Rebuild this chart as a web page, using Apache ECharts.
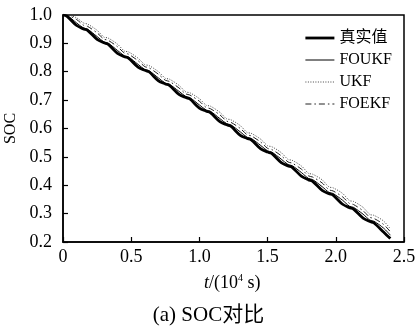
<!DOCTYPE html>
<html>
<head>
<meta charset="utf-8">
<script src="https://cdn.jsdelivr.net/npm/echarts@6/dist/echarts.min.js"></script>
<style>
  html, body { margin: 0; padding: 0; background: #fff; }
  #chart { width: 417px; height: 336px; }
</style>
</head>
<body>
<div id="chart"></div>
<script>
// 时间 (10^4 s)
var times = [0, 0.03, 0.10, 0.15, 0.18, 0.25, 0.30, 0.33, 0.40, 0.45, 0.48, 0.55, 0.60, 0.63, 0.70,
  0.75, 0.78, 0.85, 0.90, 0.93, 1.00, 1.05, 1.08, 1.15, 1.20, 1.23, 1.30, 1.35, 1.38, 1.45,
  1.50, 1.53, 1.60, 1.65, 1.68, 1.75, 1.80, 1.83, 1.90, 1.95, 1.98, 2.05, 2.10, 2.13, 2.20,
  2.25, 2.28, 2.35, 2.40];

var trueSoc = [1.000, 0.995, 0.963, 0.951, 0.946, 0.914, 0.902, 0.897, 0.865, 0.853, 0.848, 0.816,
  0.805, 0.800, 0.768, 0.757, 0.752, 0.720, 0.709, 0.704, 0.672, 0.661, 0.656, 0.624,
  0.613, 0.608, 0.576, 0.565, 0.560, 0.528, 0.517, 0.512, 0.480, 0.468, 0.463, 0.431,
  0.419, 0.414, 0.382, 0.370, 0.365, 0.333, 0.321, 0.316, 0.284, 0.272, 0.267, 0.235, 0.212];

var foukf = [1.000, 0.998, 0.972, 0.954, 0.950, 0.924, 0.905, 0.901, 0.875, 0.856, 0.852, 0.826,
  0.808, 0.804, 0.778, 0.760, 0.756, 0.731, 0.713, 0.709, 0.683, 0.665, 0.661, 0.635,
  0.617, 0.613, 0.588, 0.569, 0.565, 0.540, 0.521, 0.517, 0.492, 0.473, 0.469, 0.444,
  0.424, 0.420, 0.395, 0.375, 0.371, 0.347, 0.326, 0.322, 0.298, 0.277, 0.273, 0.249, 0.224];

var ukf = [1.000, 1.000, 0.990, 0.972, 0.968, 0.946, 0.922, 0.919, 0.897, 0.873, 0.870, 0.848,
  0.825, 0.822, 0.800, 0.777, 0.774, 0.752, 0.729, 0.726, 0.705, 0.682, 0.679, 0.657,
  0.634, 0.631, 0.610, 0.586, 0.583, 0.562, 0.539, 0.536, 0.515, 0.491, 0.488, 0.467,
  0.442, 0.439, 0.419, 0.394, 0.391, 0.371, 0.346, 0.343, 0.322, 0.297, 0.294, 0.274, 0.246];

var foekf = [1.000, 0.999, 0.984, 0.964, 0.960, 0.937, 0.915, 0.911, 0.888, 0.866, 0.862, 0.839,
  0.818, 0.814, 0.791, 0.770, 0.766, 0.743, 0.722, 0.718, 0.696, 0.674, 0.670, 0.648,
  0.626, 0.622, 0.600, 0.578, 0.574, 0.552, 0.530, 0.526, 0.504, 0.482, 0.478, 0.456,
  0.433, 0.429, 0.408, 0.384, 0.380, 0.359, 0.336, 0.332, 0.310, 0.287, 0.283, 0.262, 0.236];

var seriesNames = ['真实值', 'FOUKF', 'UKF', 'FOEKF'];

var serif = "'Liberation Serif', 'Times New Roman', 'Noto Sans CJK SC', serif";

function pairs(vals) {
  return times.map(function (t, i) { return [t, vals[i]]; });
}

var lineStyles = {
  '真实值': { color: '#000', width: 2.8, type: 'solid' },
  'FOUKF': { color: '#000', width: 1, type: 'solid' },
  'UKF': { color: '#444', width: 1, type: [1, 1.5] },
  'FOEKF': { color: '#222', width: 1, type: [6, 3, 1.5, 3] }
};

var myChart = echarts.init(document.getElementById('chart'));
myChart.setOption({
  animation: false,
  textStyle: { fontFamily: serif, color: '#000' },
  grid: {
    left: 63, right: 13, top: 15, bottom: 94,
    outerBoundsMode: 'none', containLabel: false,
    show: true, borderColor: '#000', borderWidth: 1.5
  },
  legend: {
    data: seriesNames.map(function (n) {
      return { name: n, lineStyle: lineStyles[n] };
    }),
    orient: 'vertical',
    left: 299, top: 25,
    itemWidth: 29, itemHeight: 14, itemGap: 6,
    itemStyle: { opacity: 0 },
    textStyle: { fontFamily: serif, fontSize: 16, color: '#000' }
  },
  xAxis: {
    type: 'value', min: 0, max: 2.5, interval: 0.5,
    axisLine: { lineStyle: { color: '#000', width: 1.5 } },
    axisTick: { inside: true, length: 5, lineStyle: { color: '#000', width: 1.2 } },
    splitLine: { show: false },
    axisLabel: {
      fontFamily: serif, fontSize: 18, color: '#000', margin: 6,
      formatter: function (v) { return v === 0 ? '0' : v.toFixed(1); }
    }
  },
  yAxis: {
    type: 'value', min: 0.2, max: 1.0, interval: 0.1,
    name: 'SOC', nameLocation: 'middle', nameGap: 40, nameRotate: 90,
    nameTextStyle: { fontFamily: serif, fontSize: 16, color: '#000' },
    axisLine: { lineStyle: { color: '#000', width: 1.5 } },
    axisTick: { inside: true, length: 5, lineStyle: { color: '#000', width: 1.2 } },
    splitLine: { show: false },
    axisLabel: {
      fontFamily: serif, fontSize: 18, color: '#000', margin: 11,
      formatter: function (v) { return v.toFixed(1); }
    }
  },
  graphic: [
    {
      type: 'text', left: 204, top: 273,
      style: {
        text: '{i|t}{n|/(10}{s|4}{n| s)}',
        rich: {
          i: { fontFamily: serif, fontStyle: 'italic', fontSize: 18, lineHeight: 20, fill: '#000' },
          n: { fontFamily: serif, fontSize: 18, lineHeight: 20, fill: '#000' },
          s: { fontFamily: serif, fontSize: 10, lineHeight: 20, verticalAlign: 'top', fill: '#000' }
        }
      }
    },
    {
      type: 'text', left: 'center', top: 305,
      style: { text: '(a) SOC对比', font: "21px 'Liberation Serif', 'Noto Sans CJK SC', serif", fill: '#000' }
    }
  ],
  series: ['UKF', 'FOEKF', 'FOUKF', '真实值'].map(function (n) {
    var vals = { '真实值': trueSoc, 'FOUKF': foukf, 'UKF': ukf, 'FOEKF': foekf }[n];
    return {
      name: n, type: 'line', data: pairs(vals), symbol: 'none', smooth: 0.3,
      lineStyle: lineStyles[n], itemStyle: { color: lineStyles[n].color }
    };
  })
});
</script>
</body>
</html>
